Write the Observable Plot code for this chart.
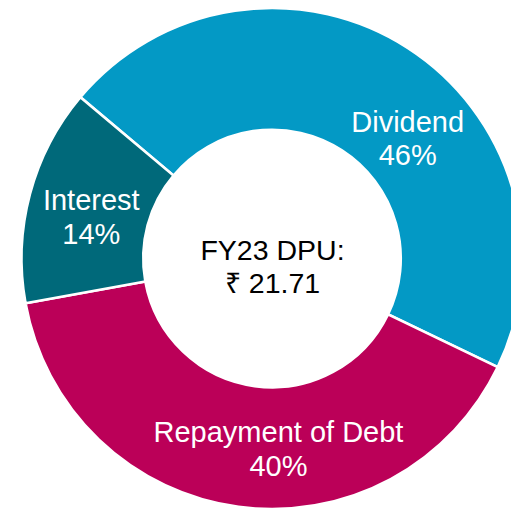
<!DOCTYPE html>
<html><head><meta charset="utf-8">
<script src="https://cdn.jsdelivr.net/npm/d3@7"></script>
<script src="https://cdn.jsdelivr.net/npm/@observablehq/plot@0.6"></script>
<style>html,body{margin:0;padding:0;background:#fff;overflow:hidden}</style>
</head><body><div id="chart"></div>
<script>
// ---- data ----
const categories = ["Dividend", "Repayment of Debt", "Interest"];
const shares = [46, 40, 14];
const sliceColors = ["#0399C5", "#BB0058", "#00697A"];
const centerLines = ["FY23 DPU:", "₹ 21.71"];

// ---- layout (not data) ----
const W = 511, H = 509;
const cx = 272, cy = 258.5, R = 250.5;
const innerRatio = 0.514;
const startDeg = -49.9;
const labelPlace = { // radius fraction and angle shift (deg) relative to slice mid-angle
  "Dividend": {r: 0.725, shift: 15.2},
  "Repayment of Debt": {r: 0.756, shift: -9.5},
  "Interest": {r: 0.743, shift: -1.7}
};
const font = "'Liberation Sans', Arial, Helvetica, sans-serif";

const data = categories.map((c, i) => ({category: c, share: shares[i], color: sliceColors[i]}));
const start = startDeg * Math.PI / 180;
const arcs = d3.pie().sort(null).value(d => d.share)
  .startAngle(start).endAngle(start + 2 * Math.PI)(data);

const labels = arcs.map(a => {
  const p = labelPlace[a.data.category];
  const ang = (a.startAngle + a.endAngle) / 2 + p.shift * Math.PI / 180;
  return {x: p.r * Math.sin(ang), y: p.r * Math.cos(ang),
          text: `${a.data.category}\n${Math.round(a.data.share)}%`};
});

function donut(index, scales) {
  const x0 = scales.x(0), y0 = scales.y(0);
  const rOut = Math.abs(scales.x(1) - x0);
  const arc = d3.arc().innerRadius(rOut * innerRatio).outerRadius(rOut);
  const g = d3.create("svg:g").attr("transform", `translate(${x0},${y0})`);
  g.selectAll("path").data(arcs).join("path")
    .attr("d", arc)
    .attr("fill", d => d.data.color)
    .attr("stroke", "white")
    .attr("stroke-width", 2.6)
    .attr("stroke-linejoin", "miter");
  return g.node();
}

const chart = Plot.plot({
  width: W, height: H,
  margin: 0,
  style: {fontFamily: font, background: "white"},
  x: {domain: [-1, 1], range: [cx - R, cx + R], axis: null},
  y: {domain: [-1, 1], range: [cy + R, cy - R], axis: null},
  marks: [
    donut,
    Plot.text(labels, {x: "x", y: "y", text: "text", fill: "white",
      fontSize: 29, lineHeight: 1.15, textAnchor: "middle", lineAnchor: "middle"}),
    Plot.text([centerLines.join("\n")], {x: () => 0, y: () => 0, text: d => d, fill: "black",
      fontSize: 28.5, lineHeight: 1.16, textAnchor: "middle", lineAnchor: "middle", dy: 7})
  ]
});
document.getElementById("chart").appendChild(chart);
</script>
</body></html>
